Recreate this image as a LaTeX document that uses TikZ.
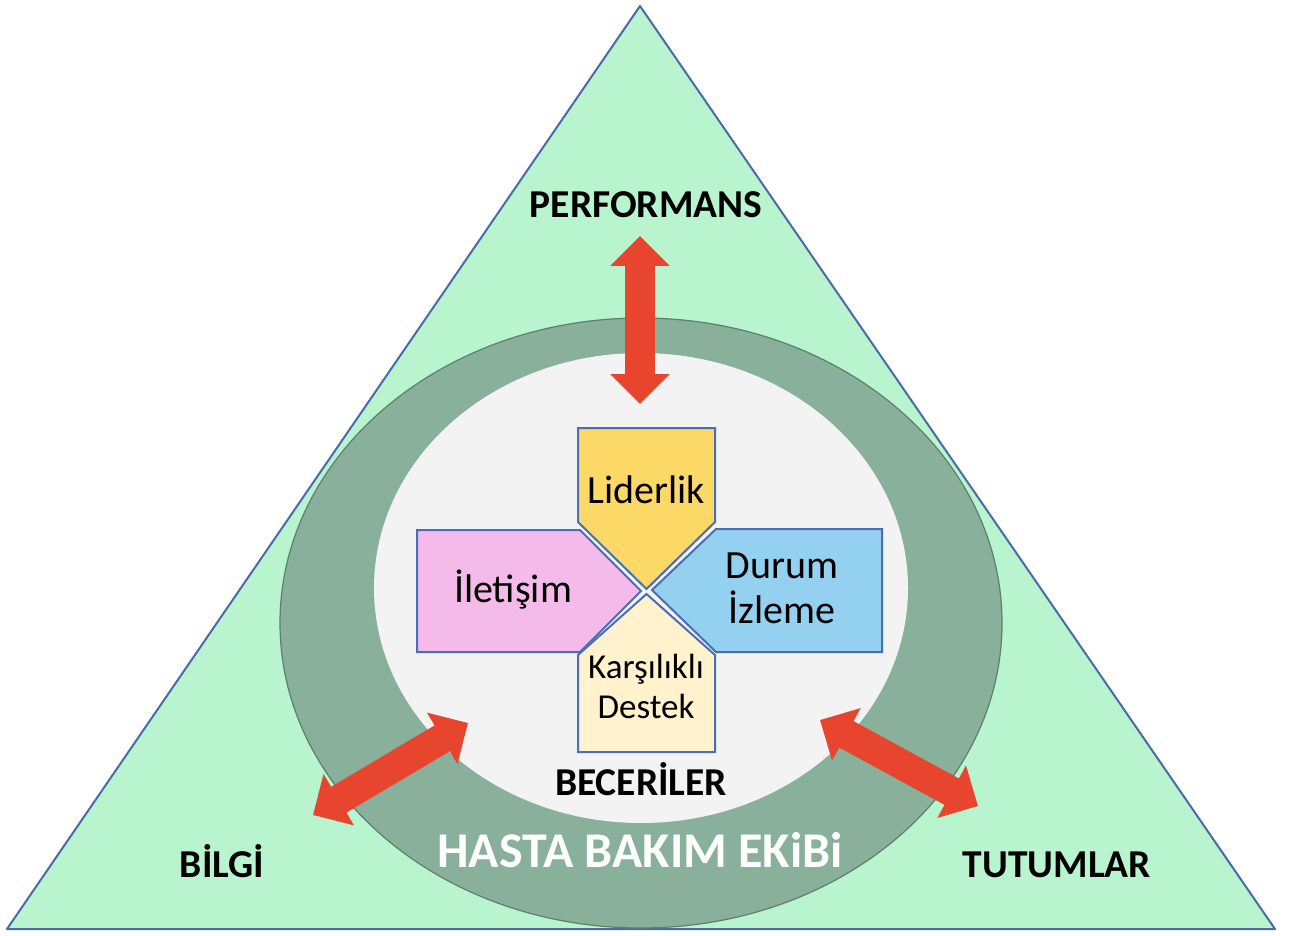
\documentclass[tikz,border=0pt]{standalone}
\usepackage{fontspec}
\setmainfont{Carlito}
\usetikzlibrary{arrows.meta}
\definecolor{trigreen}{HTML}{B8F5CE}
\definecolor{triblue}{HTML}{4A6AAA}
\definecolor{ringgreen}{HTML}{88B09A}
\definecolor{ringedge}{HTML}{5F7F6B}
\definecolor{coregrey}{HTML}{F2F3F2}
\definecolor{skillblue}{HTML}{4A6EB5}
\definecolor{lidgold}{HTML}{FCD966}
\definecolor{iltpink}{HTML}{F4BBEA}
\definecolor{durblue}{HTML}{94D1F0}
\definecolor{karcream}{HTML}{FFF2CC}
\definecolor{arrred}{HTML}{E8452F}
\tikzset{
  lbl/.style={font=\fontsize{39.5}{46}\selectfont\bfseries, anchor=base},
  skill/.style={draw=skillblue, line width=2pt, line join=miter},
  sktext/.style={font=\fontsize{40}{45}\selectfont, anchor=base, align=center},
  dblarr/.style={draw=arrred, line width=30pt,
    {Triangle[width=58pt,length=30pt]}-{Triangle[width=58pt,length=30pt]}}
}
\begin{document}
\begin{tikzpicture}[x=1pt,y=-1pt,line join=round]
  \useasboundingbox (0,0) rectangle (1291,936);
  % triangle and team ring
  \filldraw[fill=trigreen,draw=triblue,line width=2pt] (640,6) -- (1275,929) -- (7,929) -- cycle;
  \filldraw[fill=ringgreen,draw=ringedge,line width=1.2pt] (641,623) ellipse [x radius=361pt, y radius=305pt];
  \fill[coregrey] (641,588) ellipse [x radius=267pt, y radius=235pt];
  % four skills
  \filldraw[skill,fill=lidgold] (578,428) -- (715,428) -- (715,522) -- (646.5,589) -- (578,522) -- cycle;
  \filldraw[skill,fill=iltpink] (417,530) -- (580,530) -- (641,591) -- (580,652) -- (417,652) -- cycle;
  \filldraw[skill,fill=durblue] (882,529) -- (716,529) -- (652,590) -- (716,652) -- (882,652) -- cycle;
  \filldraw[skill,fill=karcream] (578,752) -- (715,752) -- (715,655) -- (646.5,594) -- (578,655) -- cycle;
  \node[sktext] (lid) at (646.5,503) {Liderlik};
  \node[sktext] (ilt) at (513,602) {İletişim};
  \node[sktext] (dur) at (782,623) {Durum\\İzleme};
  \node[sktext,font=\fontsize{35}{40}\selectfont] (kar) at (646,718) {Karşılıklı\\Destek};
  % labels
  \node[lbl] (perf) at (646,218) {PERFORMANS};
  \node[lbl] (bil) at (222,877) {BİLGİ};
  \node[lbl] (tut) at (1057,877) {TUTUMLAR};
  \node[lbl] (bec) at (641,795) {BECERİLER};
  \node[lbl,text=white,font=\fontsize{50}{56}\selectfont\bfseries] (team) at (640,867) {HASTA BAKIM EKiBi};
  % arrows
  \coordinate (perfA) at (640,236); \coordinate (perfB) at (640,404);
  \coordinate (bilA) at (313,815);  \coordinate (bilB) at (468,723);
  \coordinate (tutA) at (820,720);  \coordinate (tutB) at (978,806);
  \draw[dblarr] (perfA) -- (perfB);
  \draw[dblarr] (bilA) -- (bilB);
  \draw[dblarr] (tutA) -- (tutB);
\end{tikzpicture}
\end{document}
